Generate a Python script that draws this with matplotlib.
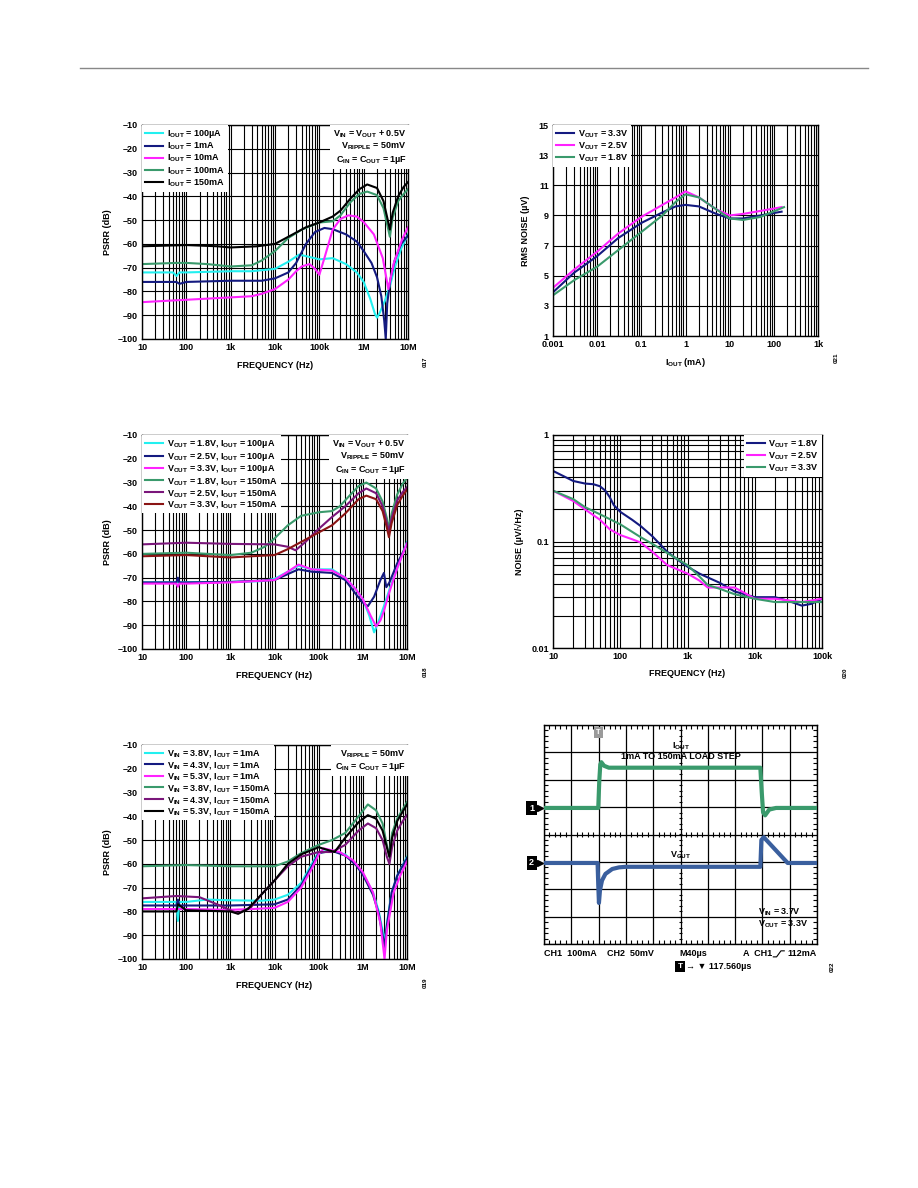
import numpy as np
import matplotlib
matplotlib.use("Agg")
import matplotlib.pyplot as plt
from matplotlib.ticker import FixedLocator, NullFormatter, LogLocator, MultipleLocator
from matplotlib.lines import Line2D

plt.rcParams['font.family'] = ['Liberation Sans', 'DejaVu Sans']
plt.rcParams['font.weight'] = 'bold'
plt.rcParams['axes.labelweight'] = 'bold'
plt.rcParams['font.size'] = 6.5
plt.rcParams['mathtext.fontset'] = 'custom'
plt.rcParams['mathtext.rm'] = 'Liberation Sans:bold'
plt.rcParams['mathtext.it'] = 'Liberation Sans:bold'
plt.rcParams['mathtext.bf'] = 'Liberation Sans:bold'
plt.rcParams['mathtext.default'] = 'rm'

CYAN = '#22f0f0'
NAVY = '#141a80'
MAGENTA = '#ff22ff'
GREEN = '#3a9a6c'
BLACK = '#000000'
PURPLE = '#7a167a'
DARKRED = '#8a1414'
SCOPE_BLUE = '#3a5f9e'

# ---- PSRR vs frequency, VIN = VOUT + 0.5V (fig 17) ----
f17_100ua = [10, 50, 60, 70, 100, 1e3, 3e3, 1e4, 2e4, 3.5e4, 6e4, 1e5, 2e5, 4e5, 7e5, 1e6, 1.4e6, 1.8e6, 2e6, 2.3e6, 3e6, 4e6, 5e6, 7e6, 1e7]
p17_100ua = [-72, -72, -73.5, -72, -72, -71.5, -71.5, -70.5, -67.5, -64.5, -65.5, -66.5, -66, -68.5, -72, -76, -83, -89.5, -91, -89, -84, -77, -70, -62, -56]
f17_1ma = [10, 60, 70, 100, 1e3, 5e3, 1e4, 2e4, 3e4, 5e4, 8e4, 1.3e5, 2e5, 4e5, 7e5, 1e6, 1.5e6, 2e6, 2.5e6, 2.9e6, 3.15e6, 3.4e6, 4e6, 5e6, 7e6, 1e7]
p17_1ma = [-76, -76, -76.8, -76, -75.5, -75.5, -74.5, -72, -68, -60, -55, -53.3, -53.8, -56, -59, -63, -68, -74, -82, -92, -100, -85, -75, -67, -60, -56.5]
f17_10ma = [10, 100, 1e3, 3e3, 5e3, 1e4, 2e4, 3e4, 4e4, 6e4, 8e4, 1e5, 1.3e5, 2e5, 3e5, 4.5e5, 7e5, 1e6, 1.7e6, 2.7e6, 3.6e6, 4.8e6, 7.4e6, 1e7]
p17_10ma = [-84.5, -83.5, -82.5, -82, -81, -79, -75, -71.5, -69.5, -68.5, -70.5, -73, -66, -54, -49.5, -48, -48.5, -50.8, -56, -66, -79, -68, -58, -53]
f17_100ma = [10, 60, 100, 300, 1e3, 3e3, 5e3, 1e4, 2e4, 4e4, 1e5, 2e5, 3e5, 5e5, 8e5, 1.2e6, 2e6, 2.8e6, 3.5e6, 3.9e6, 4.5e6, 6e6, 8e6, 1e7]
p17_100ma = [-68.5, -68, -68, -68.5, -69.5, -69, -67, -63, -57.5, -54, -51, -50.5, -48, -42.5, -39, -38, -39.5, -45, -53, -57, -49, -42, -39, -37]
f17_150ma = [10, 100, 500, 1e3, 4e3, 1e4, 2e4, 5e4, 1e5, 2e5, 3e5, 5e5, 8e5, 1.2e6, 2e6, 2.8e6, 3.5e6, 3.9e6, 4.5e6, 6e6, 8e6, 1e7]
p17_150ma = [-61, -60.5, -61, -61.5, -61, -60, -57, -53, -51, -48.5, -46, -41, -37, -35, -36.5, -42, -50, -54, -47, -40, -36, -34]

# ---- RMS noise vs load current (fig 21) ----
iout21 = [0.001, 0.003, 0.01, 0.03, 0.1, 0.3, 0.6, 1, 2, 5, 10, 20, 50, 150]
iout21_18 = [0.001, 0.003, 0.01, 0.03, 0.1, 0.3, 0.6, 1, 2, 5, 10, 20, 50, 170]
rms_33 = [3.9, 5.2, 6.3, 7.5, 8.5, 9.2, 9.6, 9.7, 9.6, 9.1, 8.8, 8.8, 9.0, 9.25]
rms_25 = [4.2, 5.4, 6.6, 7.8, 8.9, 9.7, 10.2, 10.6, 10.2, 9.4, 9.0, 9.1, 9.3, 9.55]
rms_18 = [3.7, 4.7, 5.6, 6.7, 7.9, 9.0, 9.9, 10.4, 10.2, 9.4, 8.8, 8.7, 8.9, 9.55]

# ---- PSRR vs frequency for different VOUT (fig 18) ----
f18_a = [10, 1e3, 5e3, 1e4, 2e4, 3.5e4, 7e4, 2e5, 4e5, 7e5, 1e6, 1.4e6, 1.8e6, 2.2e6, 3e6, 4e6, 6e6, 1e7]
p18_a = [-72, -71.8, -71.5, -70.5, -67.5, -65, -66.5, -66.5, -70, -75, -79, -86, -93, -89, -82, -75, -66, -55]
f18_b = [10, 60, 65, 70, 100, 1e3, 1e4, 2e4, 3.5e4, 7e4, 2e5, 4e5, 7e5, 1e6, 1.3e6, 1.8e6, 2.5e6, 3e6, 3.4e6, 4e6, 6e6, 1e7]
p18_b = [-72, -72, -70, -72, -72, -71.8, -71, -68.5, -66.5, -67.5, -68, -71, -77, -80.5, -82, -78, -71, -68, -74, -72, -64, -56]
f18_c = [10, 60, 65, 70, 100, 1e3, 1e4, 2e4, 3.5e4, 7e4, 2e5, 4e5, 7e5, 1e6, 1.5e6, 2e6, 2.5e6, 3e6, 4e6, 6e6, 1e7]
p18_c = [-72.5, -72.5, -73.8, -72.5, -72.5, -72, -71, -67.5, -64.5, -66.5, -67, -70, -75, -79, -86, -90.5, -88, -84, -76, -66, -55.5]
f18_d = [10, 100, 1e3, 3e3, 6e3, 1e4, 2e4, 4e4, 1e5, 2e5, 3e5, 5e5, 8e5, 1.2e6, 2e6, 2.8e6, 3.5e6, 3.9e6, 4.5e6, 6e6, 8e6, 1e7]
p18_d = [-60, -59.5, -60.5, -59.5, -57, -53.5, -48, -44, -42.5, -42, -40, -35.5, -31.5, -30, -32.5, -38, -45, -49, -43, -35, -30.5, -28]
f18_e = [10, 100, 1e3, 1e4, 2e4, 3e4, 5e4, 1e5, 2e5, 4e5, 8e5, 1.2e6, 2e6, 2.8e6, 3.5e6, 3.9e6, 4.5e6, 6e6, 8e6, 1e7]
p18_e = [-56, -55.3, -55.8, -56, -57, -58.5, -55, -49.5, -44.5, -40, -34.5, -32.5, -34.5, -40, -47, -50.5, -45, -37.5, -34, -32]
f18_f = [10, 100, 1e3, 3e3, 1e4, 2e4, 4e4, 1e5, 2e5, 4e5, 8e5, 1.2e6, 2e6, 2.8e6, 3.5e6, 3.9e6, 4.5e6, 6e6, 8e6, 1e7]
p18_f = [-61, -60.5, -61.5, -61, -60.5, -58, -55, -51, -48, -43, -37, -35.5, -37, -42, -49, -53, -47, -39.5, -35.5, -33]

# ---- output noise spectral density (fig 20) ----
f20_18 = [10, 20, 30, 40, 50, 60, 70, 80, 100, 150, 200, 300, 500, 700, 1e3, 1.5e3, 2e3, 3e3, 5e3, 7e3, 1e4, 2e4, 3e4, 5e4, 7e4, 1e5]
n20_18 = [0.46, 0.37, 0.35, 0.345, 0.33, 0.3, 0.26, 0.22, 0.19, 0.16, 0.14, 0.112, 0.08, 0.068, 0.058, 0.05, 0.046, 0.041, 0.034, 0.032, 0.03, 0.03, 0.028, 0.025, 0.026, 0.029]
f20_25 = [10, 20, 30, 50, 70, 100, 150, 200, 300, 500, 1e3, 1.5e3, 2e3, 3e3, 5e3, 7e3, 1e4, 2e4, 5e4, 1e5]
n20_25 = [0.3, 0.24, 0.2, 0.16, 0.13, 0.115, 0.105, 0.098, 0.08, 0.06, 0.05, 0.043, 0.037, 0.037, 0.037, 0.033, 0.029, 0.029, 0.027, 0.029]
f20_33 = [10, 20, 30, 50, 100, 200, 300, 500, 1e3, 1.5e3, 2e3, 3e3, 5e3, 1e4, 2e4, 5e4, 1e5]
n20_33 = [0.3, 0.25, 0.21, 0.18, 0.145, 0.11, 0.095, 0.078, 0.06, 0.047, 0.039, 0.036, 0.032, 0.029, 0.027, 0.027, 0.027]

# ---- PSRR vs frequency for different VIN (fig 19) ----
f19_a = [10, 60, 65, 70, 100, 300, 1e3, 5e3, 1e4, 2e4, 4e4, 7e4, 1e5, 2e5, 4e5, 7e5, 1e6, 1.7e6, 2.3e6, 2.8e6, 3.1e6, 3.5e6, 4.5e6, 6e6, 1e7]
p19_a = [-76, -76, -84, -76, -76, -75, -75.3, -75.5, -75, -73, -68, -60, -55, -54.5, -56, -60, -64, -72, -80, -88, -93, -85, -72, -65, -57]
f19_b = [10, 60, 65, 70, 100, 1e3, 1e4, 2e4, 4e4, 7e4, 1e5, 2e5, 4e5, 7e5, 1e6, 1.7e6, 2.3e6, 2.8e6, 3.1e6, 3.5e6, 4.5e6, 6e6, 1e7]
p19_b = [-77.5, -77.5, -75, -77.5, -77.5, -77.5, -77, -75, -69, -61, -55.5, -54.5, -56.5, -60.5, -64.5, -73, -81, -90, -95, -86, -72, -65, -57.5]
f19_c = [10, 100, 1e3, 3e3, 1e4, 2e4, 4e4, 7e4, 1e5, 1.3e5, 3e5, 6e5, 1e6, 1.7e6, 2.5e6, 3.1e6, 3.5e6, 5e6, 7e6, 1e7]
p19_c = [-79, -79, -79.3, -79, -78.5, -76, -70, -62, -56, -53.5, -55, -58.5, -63.5, -72, -85, -100, -88, -72, -65, -59]
f19_d = [10, 100, 1e3, 1e4, 2e4, 4e4, 1e5, 2e5, 4e5, 8e5, 1.3e6, 2e6, 2.8e6, 3.5e6, 4e6, 4.6e6, 6e6, 8e6, 1e7]
p19_d = [-61, -60.5, -61, -61, -59, -55.5, -52, -50, -47, -40, -35, -37.5, -43, -52, -57, -47, -41, -37, -34]
f19_e = [10, 60, 200, 500, 1e3, 1.5e3, 3e3, 5e3, 1e4, 2e4, 4e4, 1e5, 2e5, 4e5, 8e5, 1.3e6, 2e6, 2.8e6, 3.5e6, 4e6, 4.6e6, 6e6, 8e6, 1e7]
p19_e = [-74.5, -73.5, -74, -77, -79.5, -80.8, -78, -73, -67, -61, -57, -55, -55, -52, -46, -43, -45, -50, -57, -60, -53, -46, -42, -39.5]
f19_f = [10, 60, 65, 100, 1e3, 1.5e3, 2.5e3, 5e3, 1e4, 2e4, 4e4, 1e5, 2.3e5, 4e5, 8e5, 1.3e6, 2e6, 2.8e6, 3.5e6, 4e6, 4.6e6, 6e6, 8e6, 1e7]
p19_f = [-80, -80, -77, -79.5, -80, -81, -79, -73, -67, -60, -56, -53, -55, -49, -42.5, -39.5, -41, -46, -53, -57, -49, -42, -38, -35]

# ---- load transient scope capture (fig 22) ----
t_ch1 = [0, 79.5, 81, 82.5, 84, 88, 95, 317, 319, 321, 324, 330, 340, 400]   # us
i_ch1 = [1, 1, 100, 160, 168, 155, 148, 148, 60, -15, -26, -5, 1, 1]        # mA
t_ch2 = [0, 78.5, 79.5, 80.5, 82, 85, 90, 100, 110, 120, 317, 318.5, 322, 357, 400]
v_ch2 = [0, 0, -40, -73, -50, -32, -20, -11, -8, -7, -7, 42, 47, 0, 0]       # mV
CH1_SCALE, CH2_SCALE, TIME_SCALE = 100.0, 50.0, 40.0
CH1_POS, CH2_POS = 0.96, -1.04

freq_ticks = [10, 100, 1e3, 1e4, 1e5, 1e6, 1e7]
freq_labels = ['10', '100', '1k', '10k', '100k', '1M', '10M']
psrr_ticks = list(range(-100, 0, 10))
DASH = '\u2013'

W, H = 918, 1188
fig = plt.figure(figsize=(W / 100, H / 100), dpi=100)


def px_axes(l, t, r, b):
    return fig.add_axes([l / W, 1 - b / H, (r - l) / W, (b - t) / H])


def style(ax):
    for s in ax.spines.values():
        s.set_linewidth(1.0)
    ax.tick_params(which='both', length=0, pad=3, labelsize=6.5)
    ax.grid(which='major', color='k', lw=0.8)
    ax.grid(which='minor', axis='x', color='k', lw=0.8)
    ax.set_axisbelow(True)


def legend(ax, loc):
    lg = ax.legend(loc=loc, fontsize=6.5, frameon=True, fancybox=False, framealpha=1,
                   edgecolor='none', borderaxespad=0.0, borderpad=0.35, handlelength=2.0,
                   handletextpad=0.4, labelspacing=0.07)
    lg.get_frame().set_linewidth(0)
    return lg


def note(ax, text):
    ax.text(0.995, 0.985, text, transform=ax.transAxes, ha='right', va='top', fontsize=6.5,
            linespacing=1.15, bbox=dict(facecolor='white', edgecolor='none', pad=2.5), zorder=6)


def psrr_axes(l, t, r, b):
    ax = px_axes(l, t, r, b)
    ax.set_xscale('log')
    ax.set_xlim(10, 1e7)
    ax.set_ylim(-100, -10)
    ax.xaxis.set_major_locator(FixedLocator(freq_ticks))
    ax.set_xticklabels(freq_labels)
    ax.xaxis.set_minor_locator(LogLocator(base=10, subs=np.arange(2, 10)))
    ax.xaxis.set_minor_formatter(NullFormatter())
    ax.set_yticks(psrr_ticks)
    ax.set_yticklabels([DASH + str(abs(v)) for v in psrr_ticks])
    ax.set_xlabel('FREQUENCY (Hz)', fontsize=6.5, labelpad=6)
    ax.set_ylabel('PSRR (dB)', fontsize=6.5, labelpad=4)
    style(ax)
    return ax


def fig_id(x, y, s):
    fig.text(x / W, 1 - y / H, s, rotation=90, fontsize=4.5, ha='center', va='center')


def tag(ax, x, y, s, face, size=6, pad=0.35, **kw):
    ax.text(x, y, s, ha='center', va='center', fontsize=size, color='white',
            bbox=dict(facecolor=face, edgecolor='none', boxstyle='square,pad=%.2f' % pad), **kw)


# header rule
fig.add_artist(Line2D([80 / W, 868 / W], [1 - 68 / H, 1 - 68 / H], color='#888888', lw=1.0))

LW = 1.5

# ---- top left ----
ax = psrr_axes(142, 125, 408, 339)
ax.plot(f17_100ua, p17_100ua, color=CYAN, lw=LW, label=r'I$_{OUT}$ = 100µA')
ax.plot(f17_1ma, p17_1ma, color=NAVY, lw=LW, label=r'I$_{OUT}$ = 1mA')
ax.plot(f17_10ma, p17_10ma, color=MAGENTA, lw=LW, label=r'I$_{OUT}$ = 10mA')
ax.plot(f17_100ma, p17_100ma, color=GREEN, lw=LW, label=r'I$_{OUT}$ = 100mA')
ax.plot(f17_150ma, p17_150ma, color=BLACK, lw=LW, label=r'I$_{OUT}$ = 150mA')
legend(ax, 'upper left')
note(ax, 'V$_{IN}$ = V$_{OUT}$ + 0.5V\nV$_{RIPPLE}$ = 50mV\nC$_{IN}$ = C$_{OUT}$ = 1µF')
fig_id(425, 362, '017')

# ---- top right ----
ax = px_axes(553, 125, 818, 336)
ax.set_xscale('log')
ax.set_xlim(0.001, 1000)
ax.set_ylim(1, 15)
ax.xaxis.set_major_locator(FixedLocator([0.001, 0.01, 0.1, 1, 10, 100, 1000]))
ax.set_xticklabels(['0.001', '0.01', '0.1', '1', '10', '100', '1k'])
ax.xaxis.set_minor_locator(LogLocator(base=10, subs=np.arange(2, 10)))
ax.xaxis.set_minor_formatter(NullFormatter())
ax.set_yticks(range(1, 16, 2))
ax.set_xlabel('I$_{OUT}$ (mA)', fontsize=6.5, labelpad=5)
ax.set_ylabel('RMS NOISE (µV)', fontsize=6.5, labelpad=6)
style(ax)
ax.plot(iout21, rms_33, color=NAVY, lw=LW, label=r'V$_{OUT}$ = 3.3V')
ax.plot(iout21, rms_25, color=MAGENTA, lw=LW, label=r'V$_{OUT}$ = 2.5V')
ax.plot(iout21_18, rms_18, color=GREEN, lw=LW, label=r'V$_{OUT}$ = 1.8V')
legend(ax, 'upper left')
fig_id(836, 358, '021')

# ---- middle left ----
ax = psrr_axes(142, 435, 407, 649)
ax.plot(f18_a, p18_a, color=CYAN, lw=LW, label=r'V$_{OUT}$ = 1.8V, I$_{OUT}$ = 100µA')
ax.plot(f18_b, p18_b, color=NAVY, lw=LW, label=r'V$_{OUT}$ = 2.5V, I$_{OUT}$ = 100µA')
ax.plot(f18_c, p18_c, color=MAGENTA, lw=LW, label=r'V$_{OUT}$ = 3.3V, I$_{OUT}$ = 100µA')
ax.plot(f18_d, p18_d, color=GREEN, lw=LW, label=r'V$_{OUT}$ = 1.8V, I$_{OUT}$ = 150mA')
ax.plot(f18_e, p18_e, color=PURPLE, lw=LW, label=r'V$_{OUT}$ = 2.5V, I$_{OUT}$ = 150mA')
ax.plot(f18_f, p18_f, color=DARKRED, lw=LW, label=r'V$_{OUT}$ = 3.3V, I$_{OUT}$ = 150mA')
legend(ax, 'upper left')
note(ax, 'V$_{IN}$ = V$_{OUT}$ + 0.5V\nV$_{RIPPLE}$ = 50mV\nC$_{IN}$ = C$_{OUT}$ = 1µF')
fig_id(425, 672, '018')

# ---- middle right ----
ax = px_axes(553, 435, 822, 648)
ax.set_xscale('log')
ax.set_yscale('log')
ax.set_xlim(10, 1e5)
ax.set_ylim(0.01, 1)
ax.xaxis.set_major_locator(FixedLocator([10, 100, 1e3, 1e4, 1e5]))
ax.set_xticklabels(['10', '100', '1k', '10k', '100k'])
ax.xaxis.set_minor_locator(LogLocator(base=10, subs=np.arange(2, 10)))
ax.xaxis.set_minor_formatter(NullFormatter())
ax.yaxis.set_major_locator(FixedLocator([0.01, 0.1, 1]))
ax.set_yticklabels(['0.01', '0.1', '1'])
ax.yaxis.set_minor_locator(LogLocator(base=10, subs=np.arange(2, 10)))
ax.yaxis.set_minor_formatter(NullFormatter())
ax.set_xlabel('FREQUENCY (Hz)', fontsize=6.5, labelpad=6)
ax.set_ylabel('NOISE (µV/\u221aHz)', fontsize=6.5, labelpad=5)
style(ax)
ax.grid(which='minor', axis='y', color='k', lw=0.8)
ax.plot(f20_18, n20_18, color=NAVY, lw=LW, label=r'V$_{OUT}$ = 1.8V')
ax.plot(f20_25, n20_25, color=MAGENTA, lw=LW, label=r'V$_{OUT}$ = 2.5V')
ax.plot(f20_33, n20_33, color=GREEN, lw=LW, label=r'V$_{OUT}$ = 3.3V')
legend(ax, 'upper right')
fig_id(845, 673, '020')

# ---- bottom left ----
ax = psrr_axes(142, 745, 407, 959)
ax.plot(f19_a, p19_a, color=CYAN, lw=LW, label=r'V$_{IN}$ = 3.8V, I$_{OUT}$ = 1mA')
ax.plot(f19_b, p19_b, color=NAVY, lw=LW, label=r'V$_{IN}$ = 4.3V, I$_{OUT}$ = 1mA')
ax.plot(f19_c, p19_c, color=MAGENTA, lw=LW, label=r'V$_{IN}$ = 5.3V, I$_{OUT}$ = 1mA')
ax.plot(f19_d, p19_d, color=GREEN, lw=LW, label=r'V$_{IN}$ = 3.8V, I$_{OUT}$ = 150mA')
ax.plot(f19_e, p19_e, color=PURPLE, lw=LW, label=r'V$_{IN}$ = 4.3V, I$_{OUT}$ = 150mA')
ax.plot(f19_f, p19_f, color=BLACK, lw=LW, label=r'V$_{IN}$ = 5.3V, I$_{OUT}$ = 150mA')
legend(ax, 'upper left')
note(ax, 'V$_{RIPPLE}$ = 50mV\nC$_{IN}$ = C$_{OUT}$ = 1µF')
fig_id(425, 983, '019')

# ---- bottom right: scope ----
ax = px_axes(544, 725, 817, 944)
ax.set_xlim(0, 10)
ax.set_ylim(-4, 4)
ax.xaxis.set_major_locator(MultipleLocator(1))
ax.yaxis.set_major_locator(MultipleLocator(1))
ax.xaxis.set_minor_locator(MultipleLocator(0.2))
ax.yaxis.set_minor_locator(MultipleLocator(0.2))
ax.tick_params(which='both', direction='in', top=True, right=True, labelbottom=False, labelleft=False)
ax.tick_params(which='major', length=0)
ax.tick_params(which='minor', length=3, width=0.8)
ax.grid(which='major', color='k', lw=0.9)
for s in ax.spines.values():
    s.set_linewidth(1.0)
minor = np.arange(0.2, 10, 0.2)
ax.vlines(minor, -0.1, 0.1, color='k', lw=0.8)
ax.hlines(np.arange(-3.8, 4, 0.2), 4.93, 5.07, color='k', lw=0.8)

ax.plot(np.array(t_ch1) / TIME_SCALE, CH1_POS + np.array(i_ch1) / CH1_SCALE, color=GREEN, lw=3.0, zorder=4)
ax.plot(np.array(t_ch2) / TIME_SCALE, CH2_POS + np.array(v_ch2) / CH2_SCALE, color=SCOPE_BLUE, lw=3.0, zorder=4)

ax.text(5, 3.05, 'I$_{OUT}$\n1mA TO 150mA LOAD STEP', ha='center', va='center', fontsize=6.5, linespacing=1.0)
ax.text(5, -0.75, 'V$_{OUT}$', ha='center', va='center', fontsize=6.5)
ax.text(7.85, -3.05, 'V$_{IN}$ = 3.7V\nV$_{OUT}$ = 3.3V', ha='left', va='center', fontsize=6.5, linespacing=1.1)
tag(ax, 2.0, 3.72, 'T', '#9a9a9a', size=5.5, pad=0.25)
for num, lev in [('1', CH1_POS), ('2', CH2_POS)]:
    tag(ax, -0.45, lev, num, 'black', size=6.5, pad=0.3, clip_on=False)
    ax.plot([-0.13], [lev], marker='>', color='black', ms=4.5, clip_on=False)

ax.text(0.0, -4.35, 'CH1  100mA', ha='left', va='center', fontsize=6.5)
ax.text(2.3, -4.35, 'CH2  50mV', ha='left', va='center', fontsize=6.5)
ax.text(4.95, -4.35, 'M40µs', ha='left', va='center', fontsize=6.5)
ax.text(7.3, -4.35, 'A  CH1', ha='left', va='center', fontsize=6.5)
ax.plot([8.4, 8.52, 8.68, 8.8], [-4.47, -4.47, -4.25, -4.25], color='k', lw=0.8, clip_on=False)
ax.text(10.0, -4.35, '112mA', ha='right', va='center', fontsize=6.5)
tag(ax, 4.98, -4.83, 'T', 'black', size=6, pad=0.25, clip_on=False)
ax.text(5.2, -4.83, '\u2192 \u25bc 117.560µs', ha='left', va='center', fontsize=6.5)
fig_id(832, 967, '022')

fig.savefig('out.png', dpi=100)
